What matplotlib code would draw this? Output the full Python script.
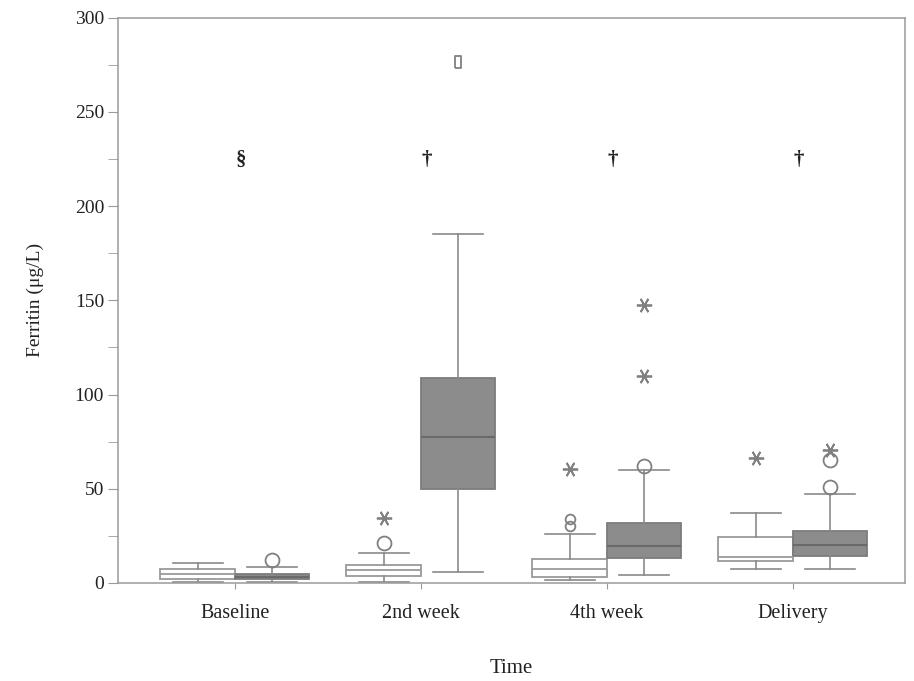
import matplotlib
matplotlib.use('Agg')
import matplotlib.pyplot as plt
import matplotlib.transforms as mtransforms
from matplotlib.ticker import MultipleLocator

plt.rcParams['font.family'] = ['Liberation Serif', 'DejaVu Serif']

groups = ['Baseline', '2nd week', '4th week', 'Delivery']
sig_marks = ['§', '†', '†', '†']
sig_level = 224.6

# control group (white boxes): whisker low, q1, median, q3, whisker high
ctrl_low = [0.5, 0.5, 1.6, 7.4]
ctrl_q1 = [2.1, 3.7, 3.2, 11.7]
ctrl_med = [4.8, 6.9, 7.4, 13.8]
ctrl_q3 = [7.4, 9.6, 12.7, 24.4]
ctrl_high = [10.6, 15.9, 26.0, 37.2]
ctrl_circle = [[], [21.0], [], []]
ctrl_small = [[], [], [34.0, 30.0], []]
ctrl_star = [[], [34.5], [60.5], [66.4]]

# iron group (grey boxes)
iron_low = [0.5, 5.8, 4.2, 7.4]
iron_q1 = [2.1, 49.9, 13.3, 14.3]
iron_med = [3.2, 77.5, 19.6, 20.2]
iron_q3 = [4.6, 108.9, 31.9, 27.6]
iron_high = [8.7, 185.3, 60.0, 47.3]
iron_circle = [[12.2], [], [62.0], [51.0, 65.3]]
iron_star = [[], [], [109.6, 147.3], [70.6]]
iron_square = [[], [276.7], [], []]


def make_stats(low, q1, med, q3, high):
    return [dict(whislo=a, q1=b, med=c, q3=d, whishi=e, fliers=[])
            for a, b, c, d, e in zip(low, q1, med, q3, high)]


fig = plt.figure(figsize=(9.14, 6.81), dpi=100)
ax = fig.add_axes([0.129, 0.144, 0.861, 0.830])

pos = list(range(1, len(groups) + 1))
pos_c = [p - 0.2 for p in pos]
pos_i = [p + 0.2 for p in pos]

edge = '#9a9a9a'
ax.bxp(make_stats(ctrl_low, ctrl_q1, ctrl_med, ctrl_q3, ctrl_high),
       positions=pos_c, widths=0.4, capwidths=0.27, patch_artist=True,
       showfliers=False,
       boxprops=dict(facecolor='white', edgecolor=edge, linewidth=1.3),
       whiskerprops=dict(color='#8a8a8a', linewidth=1.2),
       capprops=dict(color='#8a8a8a', linewidth=1.2),
       medianprops=dict(color=edge, linewidth=1.3))
ax.bxp(make_stats(iron_low, iron_q1, iron_med, iron_q3, iron_high),
       positions=pos_i, widths=0.4, capwidths=0.27, patch_artist=True,
       showfliers=False,
       boxprops=dict(facecolor='#8c8c8c', edgecolor='#7c7c7c', linewidth=1.3),
       whiskerprops=dict(color='#8a8a8a', linewidth=1.2),
       capprops=dict(color='#8a8a8a', linewidth=1.2),
       medianprops=dict(color='#6a6a6a', linewidth=1.5))

star = (6, 2, 90)
rect = [(-0.55, -1), (0.55, -1), (0.55, 1), (-0.55, 1), (-0.55, -1)]
outlier_sets = [
    (pos_c, ctrl_circle, 'o', 10),
    (pos_c, ctrl_small, 'o', 7),
    (pos_c, ctrl_star, star, 11),
    (pos_i, iron_circle, 'o', 10),
    (pos_i, iron_star, star, 11),
    (pos_i, iron_square, rect, 9),
]
for xs, vals, mk, ms in outlier_sets:
    for x, v in zip(xs, vals):
        if v:
            ax.plot([x] * len(v), v, ls='none', marker=mk, ms=ms,
                    mfc='none', mec='#808080', mew=1.3)

for p, s in zip(pos, sig_marks):
    ax.text(p + 0.03, sig_level, s, ha='center', va='center',
            fontsize=15, fontweight='bold', color='#222222')

ax.set_xlim(0.371, 4.602)
ax.set_ylim(0, 300)
ax.set_xticks(pos)
ax.set_xticklabels(groups)
ax.yaxis.set_major_locator(MultipleLocator(50))
ax.yaxis.set_minor_locator(MultipleLocator(25))

for sp in ax.spines.values():
    sp.set_color('#9a9a9a')
    sp.set_linewidth(1.1)

ax.tick_params(axis='y', which='both', direction='out', length=7,
               color='#9a9a9a', labelsize=14, labelcolor='#222222', pad=3)
ax.tick_params(axis='x', direction='out', length=4, color='#9a9a9a',
               labelsize=14.5, labelcolor='#222222', pad=11)

# the zero label sits a little above the axis line
zero = ax.yaxis.get_major_ticks()[0].label1
zero.set_transform(zero.get_transform() +
                   mtransforms.ScaledTranslation(0, 10 / 100, fig.dpi_scale_trans))

ax.set_ylabel('Ferritin (\u03bcg/L)', fontsize=14, color='#222222', labelpad=22)
ax.set_xlabel('Time', fontsize=15, color='#222222', labelpad=26)

fig.savefig('out.png', dpi=100)
